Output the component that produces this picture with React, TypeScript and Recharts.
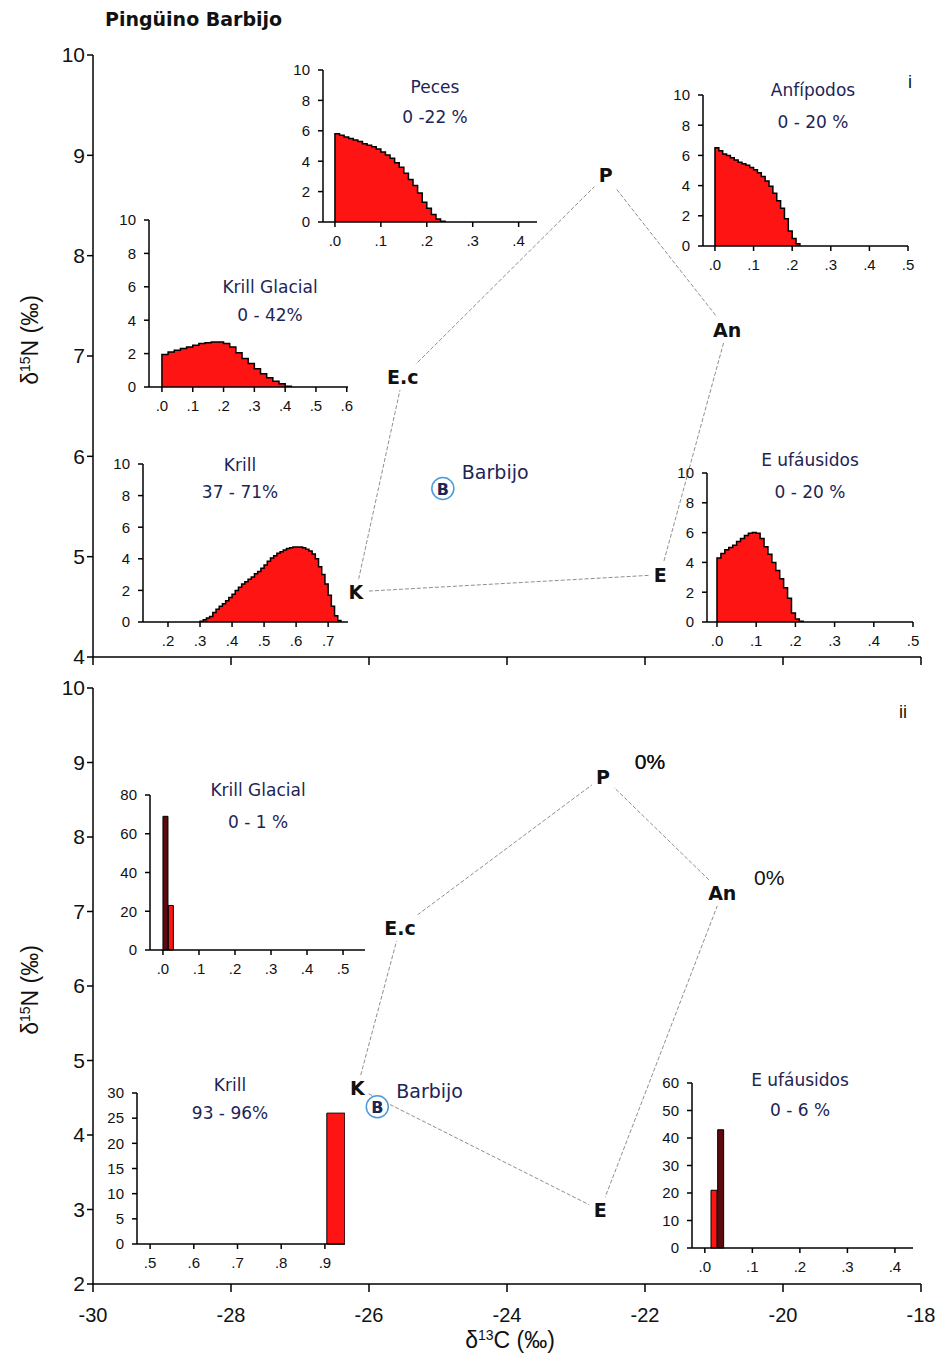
import React from "react";
import {
  ScatterChart,
  Scatter,
  ComposedChart,
  Area,
  Bar,
  Cell,
  XAxis,
  YAxis,
} from "recharts";

// ---------- datos del polígono de mezcla ----------
const sourceNames = ["P", "An", "E", "K", "E.c"];

// panel i
const topD13C = [-22.57, -20.81, -21.78, -26.19, -25.51];
const topD15N = [8.8, 7.26, 4.82, 4.65, 6.79];
const topConsumer = { x: -24.93, y: 5.68 };

// panel ii
const bottomD13C = [-22.61, -20.88, -22.65, -26.17, -25.55];
const bottomD15N = [8.81, 7.25, 2.99, 4.63, 6.78];
const bottomShares = ["0%", "0%", "", "", ""];
const bottomConsumer = { x: -25.88, y: 4.38 };

const xTicks = [-30, -28, -26, -24, -22, -20, -18];
const topYTicks = [4, 5, 6, 7, 8, 9, 10];
const bottomYTicks = [2, 3, 4, 5, 6, 7, 8, 9, 10];

// ---------- histogramas (panel i) ----------
const pecesBins = [0, 0.01, 0.02, 0.03, 0.04, 0.05, 0.06, 0.07, 0.08, 0.09, 0.1, 0.11, 0.12, 0.13, 0.14, 0.15, 0.16, 0.17, 0.18, 0.19, 0.2, 0.21, 0.22, 0.23];
const pecesFreq = [5.8, 5.7, 5.6, 5.5, 5.4, 5.3, 5.15, 5.05, 4.95, 4.8, 4.6, 4.4, 4.2, 3.9, 3.6, 3.2, 2.8, 2.4, 1.9, 1.3, 0.9, 0.5, 0.2, 0.05];

const anfBins = [0, 0.01, 0.02, 0.03, 0.04, 0.05, 0.06, 0.07, 0.08, 0.09, 0.1, 0.11, 0.12, 0.13, 0.14, 0.15, 0.16, 0.17, 0.18, 0.19, 0.2, 0.21];
const anfFreq = [6.5, 6.3, 6.1, 6.0, 5.85, 5.7, 5.55, 5.45, 5.35, 5.2, 5.05, 4.85, 4.6, 4.3, 3.95, 3.5, 3.0, 2.5, 1.8, 1.0, 0.5, 0.15];

const glacialTopBins = [0, 0.02, 0.04, 0.06, 0.08, 0.1, 0.12, 0.14, 0.16, 0.18, 0.2, 0.22, 0.24, 0.26, 0.28, 0.3, 0.32, 0.34, 0.36, 0.38, 0.4];
const glacialTopFreq = [1.95, 2.1, 2.2, 2.3, 2.4, 2.5, 2.6, 2.65, 2.7, 2.7, 2.6, 2.4, 2.05, 1.7, 1.4, 1.1, 0.8, 0.55, 0.35, 0.2, 0.05];

const krillTopBins = [0.3, 0.31, 0.32, 0.33, 0.34, 0.35, 0.36, 0.37, 0.38, 0.39, 0.4, 0.41, 0.42, 0.43, 0.44, 0.45, 0.46, 0.47, 0.48, 0.49, 0.5, 0.51, 0.52, 0.53, 0.54, 0.55, 0.56, 0.57, 0.58, 0.59, 0.6, 0.61, 0.62, 0.63, 0.64, 0.65, 0.66, 0.67, 0.68, 0.69, 0.7, 0.71, 0.72, 0.73];
const krillTopFreq = [0.05, 0.15, 0.25, 0.35, 0.6, 0.8, 1.0, 1.15, 1.35, 1.55, 1.75, 2.0, 2.2, 2.4, 2.55, 2.7, 2.85, 3.05, 3.2, 3.4, 3.6, 3.85, 4.05, 4.2, 4.35, 4.45, 4.55, 4.65, 4.7, 4.75, 4.75, 4.75, 4.7, 4.6, 4.5, 4.3, 4.0, 3.5, 3.0, 2.4, 1.7, 1.0, 0.4, 0.1];

const eufTopBins = [0, 0.01, 0.02, 0.03, 0.04, 0.05, 0.06, 0.07, 0.08, 0.09, 0.1, 0.11, 0.12, 0.13, 0.14, 0.15, 0.16, 0.17, 0.18, 0.19, 0.2, 0.21];
const eufTopFreq = [4.3, 4.6, 4.85, 5.0, 5.15, 5.4, 5.6, 5.8, 5.95, 6.0, 5.95, 5.6, 5.05, 4.55, 4.0, 3.45, 2.9, 2.3, 1.6, 0.6, 0.2, 0.05];

// ---------- histogramas (panel ii) ----------
const glacialBottomBins = [0.0075, 0.0225];
const glacialBottomFreq = [69, 23];

const krillBottomBins = [0.925];
const krillBottomFreq = [26];

const eufBottomBins = [0.02, 0.034];
const eufBottomFreq = [21, 43];

const SANS = '"Liberation Sans", Arial, sans-serif';
const WIDE = '"DejaVu Sans", sans-serif';
const NAVY = "#1d2556";
const RED = "#ff1414";
const DARK = "#5c0a10";

const decimal = (v: number) => "." + Math.round(v * 10);

const polygonRows = (xs: number[], ys: number[], shares?: string[]) => {
  const rows = sourceNames.map((name, i) => ({
    x: xs[i],
    y: ys[i],
    name,
    share: shares ? shares[i] : "",
  }));
  return [...rows, rows[0]];
};

const VertexMark = (props: any) => {
  const { cx, cy, payload } = props;
  const w = payload.name.length * 12 + 10;
  return (
    <g>
      <rect x={cx - w / 2} y={cy - 13} width={w} height={26} fill="#fff" />
      <text
        x={cx}
        y={cy}
        textAnchor="middle"
        dominantBaseline="central"
        fontSize={19}
        fontWeight="bold"
        fontFamily={WIDE}
        fill="#111"
      >
        {payload.name}
      </text>
      {payload.share ? (
        <text
          x={cx + 47}
          y={cy - 15}
          textAnchor="middle"
          dominantBaseline="central"
          fontSize={21}
          fontFamily={SANS}
          fill="#111"
        >
          {payload.share}
        </text>
      ) : null}
    </g>
  );
};

const ConsumerMark = (props: any) => {
  const { cx, cy } = props;
  return (
    <g>
      <circle cx={cx} cy={cy} r={11} fill="#fff" stroke="#4a9ad8" strokeWidth={1.5} />
      <text x={cx} y={cy + 1} textAnchor="middle" dominantBaseline="central" fontSize={16} fontWeight="bold" fontFamily={WIDE} fill={NAVY}>
        B
      </text>
      <text x={cx + 19} y={cy - 16} dominantBaseline="central" fontSize={19} fontFamily={WIDE} fill={NAVY}>
        Barbijo
      </text>
    </g>
  );
};

const MixingPanel = ({ height, marginTop, yDomain, yTicks, polygon, consumer, showXLabels }: any) => (
  <ScatterChart width={939} height={height} margin={{ top: marginTop, right: 18, bottom: 0, left: 0 }}>
    <XAxis
      type="number"
      dataKey="x"
      domain={[-30, -18]}
      ticks={xTicks}
      interval={0}
      height={showXLabels ? 76 : 15}
      tickSize={8}
      tickMargin={16}
      tickFormatter={showXLabels ? (v: number) => String(v) : () => ""}
      stroke="#000"
      strokeWidth={1.5}
      tick={{ fontSize: 20, fill: "#111" }}
    />
    <YAxis
      type="number"
      dataKey="y"
      domain={yDomain}
      ticks={yTicks}
      interval={0}
      width={93}
      tickSize={6}
      stroke="#000"
      strokeWidth={1.5}
      tick={{ fontSize: 21, fill: "#111" }}
    />
    <Scatter
      data={polygon}
      line={{ stroke: "#8f8f8f", strokeWidth: 1, strokeDasharray: "4 2" }}
      shape={VertexMark}
      isAnimationActive={false}
    />
    <Scatter data={[consumer]} shape={ConsumerMark} isAnimationActive={false} />
  </ScatterChart>
);

const Histogram = ({ box, xDomain, xTicks, yMax, yTicks, bins, freq, binWidth, kind, barSize, darkBars }: any) => {
  const YW = 40;
  const MT = 10;
  const MR = 14;
  const XH = 32;
  const width = box.xEnd - box.axisX + YW + MR;
  const height = box.y0 - box.yTop + MT + XH;
  const rows = bins.map((x: number, i: number) => ({ x, f: freq[i] }));
  const data =
    kind === "area"
      ? [{ x: bins[0], f: 0 }, ...rows, { x: bins[bins.length - 1] + binWidth, f: 0 }]
      : rows;
  return (
    <div style={{ position: "absolute", left: box.axisX - YW, top: box.yTop - MT }}>
      <ComposedChart width={width} height={height} data={data} margin={{ top: MT, right: MR, bottom: 0, left: 0 }}>
        <XAxis
          type="number"
          dataKey="x"
          domain={xDomain}
          ticks={xTicks}
          interval={0}
          allowDataOverflow
          height={XH}
          tickFormatter={decimal}
          tick={{ fontSize: 15, fill: "#111" }}
          tickSize={5}
          tickMargin={8}
          stroke="#000"
          strokeWidth={1.5}
        />
        <YAxis
          type="number"
          domain={[0, yMax]}
          ticks={yTicks}
          interval={0}
          width={YW}
          tick={{ fontSize: 15, fill: "#111" }}
          tickSize={5}
          tickMargin={8}
          stroke="#000"
          strokeWidth={1.5}
        />
        {kind === "area" ? (
          <Area
            type="stepAfter"
            dataKey="f"
            stroke="#000"
            strokeWidth={1.5}
            fill={RED}
            fillOpacity={1}
            dot={false}
            activeDot={false}
            isAnimationActive={false}
          />
        ) : (
          <Bar dataKey="f" barSize={barSize} stroke="#000" strokeWidth={1} isAnimationActive={false}>
            {rows.map((_: any, i: number) => (
              <Cell key={i} fill={darkBars && darkBars.includes(i) ? DARK : RED} />
            ))}
          </Bar>
        )}
      </ComposedChart>
    </div>
  );
};

const Caption = ({ x, y, children, size = 17, color = NAVY, bold = false, family = WIDE }: any) => (
  <div
    style={{
      position: "absolute",
      left: x,
      top: y,
      transform: "translate(-50%, -50%)",
      whiteSpace: "nowrap",
      fontSize: size,
      color,
      fontWeight: bold ? "bold" : "normal",
      fontFamily: family,
      lineHeight: 1,
    }}
  >
    {children}
  </div>
);

const tenTicks = [0, 2, 4, 6, 8, 10];

export default function App() {
  return (
    <div style={{ position: "absolute", left: 0, top: 0, width: 939, height: 1360, background: "#fff", fontFamily: SANS }}>
      <div style={{ position: "absolute", left: 0, top: 0 }}>
        <MixingPanel
          height={672}
          marginTop={55}
          yDomain={[4, 10]}
          yTicks={topYTicks}
          polygon={polygonRows(topD13C, topD15N)}
          consumer={topConsumer}
          showXLabels={false}
        />
      </div>
      <div style={{ position: "absolute", left: 0, top: 660 }}>
        <MixingPanel
          height={700}
          marginTop={28}
          yDomain={[2, 10]}
          yTicks={bottomYTicks}
          polygon={polygonRows(bottomD13C, bottomD15N, bottomShares)}
          consumer={bottomConsumer}
          showXLabels
        />
      </div>

      {/* panel i */}
      <Histogram box={{ axisX: 323, yTop: 70, y0: 222, xEnd: 537 }} xDomain={[-0.026, 0.44]} xTicks={[0, 0.1, 0.2, 0.3, 0.4]}
        yMax={10} yTicks={tenTicks} bins={pecesBins} freq={pecesFreq} binWidth={0.01} kind="area" />
      <Histogram box={{ axisX: 703, yTop: 95, y0: 246, xEnd: 908 }} xDomain={[-0.031, 0.5]} xTicks={[0, 0.1, 0.2, 0.3, 0.4, 0.5]}
        yMax={10} yTicks={tenTicks} bins={anfBins} freq={anfFreq} binWidth={0.01} kind="area" />
      <Histogram box={{ axisX: 149, yTop: 220, y0: 387, xEnd: 348 }} xDomain={[-0.042, 0.604]} xTicks={[0, 0.1, 0.2, 0.3, 0.4, 0.5, 0.6]}
        yMax={10} yTicks={tenTicks} bins={glacialTopBins} freq={glacialTopFreq} binWidth={0.02} kind="area" />
      <Histogram box={{ axisX: 143, yTop: 464, y0: 622, xEnd: 348 }} xDomain={[0.122, 0.762]} xTicks={[0.2, 0.3, 0.4, 0.5, 0.6, 0.7]}
        yMax={10} yTicks={tenTicks} bins={krillTopBins} freq={krillTopFreq} binWidth={0.01} kind="area" />
      <Histogram box={{ axisX: 707, yTop: 473, y0: 622, xEnd: 913 }} xDomain={[-0.0255, 0.5]} xTicks={[0, 0.1, 0.2, 0.3, 0.4, 0.5]}
        yMax={10} yTicks={tenTicks} bins={eufTopBins} freq={eufTopFreq} binWidth={0.01} kind="area" />

      {/* panel ii */}
      <Histogram box={{ axisX: 150, yTop: 795, y0: 950, xEnd: 365 }} xDomain={[-0.036, 0.561]} xTicks={[0, 0.1, 0.2, 0.3, 0.4, 0.5]}
        yMax={80} yTicks={[0, 20, 40, 60, 80]} bins={glacialBottomBins} freq={glacialBottomFreq} kind="bar" barSize={5} darkBars={[0]} />
      <Histogram box={{ axisX: 137, yTop: 1093, y0: 1244, xEnd: 345 }} xDomain={[0.47, 0.946]} xTicks={[0.5, 0.6, 0.7, 0.8, 0.9]}
        yMax={30} yTicks={[0, 5, 10, 15, 20, 25, 30]} bins={krillBottomBins} freq={krillBottomFreq} kind="bar" barSize={18} />
      <Histogram box={{ axisX: 692, yTop: 1083, y0: 1248, xEnd: 913 }} xDomain={[-0.027, 0.438]} xTicks={[0, 0.1, 0.2, 0.3, 0.4]}
        yMax={60} yTicks={[0, 10, 20, 30, 40, 50, 60]} bins={eufBottomBins} freq={eufBottomFreq} kind="bar" barSize={7} darkBars={[1]} />

      {/* textos de los histogramas */}
      <Caption x={435} y={87}>Peces</Caption>
      <Caption x={435} y={117}>0 -22 %</Caption>
      <Caption x={813} y={90}>Anfípodos</Caption>
      <Caption x={813} y={122}>0 - 20 %</Caption>
      <Caption x={270} y={287}>Krill Glacial</Caption>
      <Caption x={270} y={315}>0 - 42%</Caption>
      <Caption x={240} y={465}>Krill</Caption>
      <Caption x={240} y={492}>37 - 71%</Caption>
      <Caption x={810} y={460}>E ufáusidos</Caption>
      <Caption x={810} y={492}>0 - 20 %</Caption>
      <Caption x={258} y={790}>Krill Glacial</Caption>
      <Caption x={258} y={822}>0 - 1 %</Caption>
      <Caption x={230} y={1085}>Krill</Caption>
      <Caption x={230} y={1113}>93 - 96%</Caption>
      <Caption x={800} y={1080}>E ufáusidos</Caption>
      <Caption x={800} y={1110}>0 - 6 %</Caption>

      {/* títulos y ejes */}
      <div style={{ position: "absolute", left: 105, top: 8, fontSize: 19, fontWeight: "bold", fontFamily: WIDE, color: "#111", whiteSpace: "nowrap" }}>
        Pingüino Barbijo
      </div>
      <Caption x={910} y={82} size={18} color="#111" family={SANS}>i</Caption>
      <Caption x={903} y={712} size={18} color="#111" family={SANS}>ii</Caption>
      {[340, 990].map((cy) => (
        <div
          key={cy}
          style={{
            position: "absolute",
            left: 30,
            top: cy,
            transform: "translate(-50%, -50%) rotate(-90deg)",
            whiteSpace: "nowrap",
            fontSize: 23,
            color: "#111",
            fontFamily: SANS,
            lineHeight: 1,
          }}
        >
          δ<span style={{ fontSize: 14, verticalAlign: "8px" }}>15</span>N (‰)
        </div>
      ))}
      <Caption x={510} y={1340} size={23} color="#111" family={SANS}>
        δ<span style={{ fontSize: 14, verticalAlign: "8px" }}>13</span>C (‰)
      </Caption>
    </div>
  );
}
